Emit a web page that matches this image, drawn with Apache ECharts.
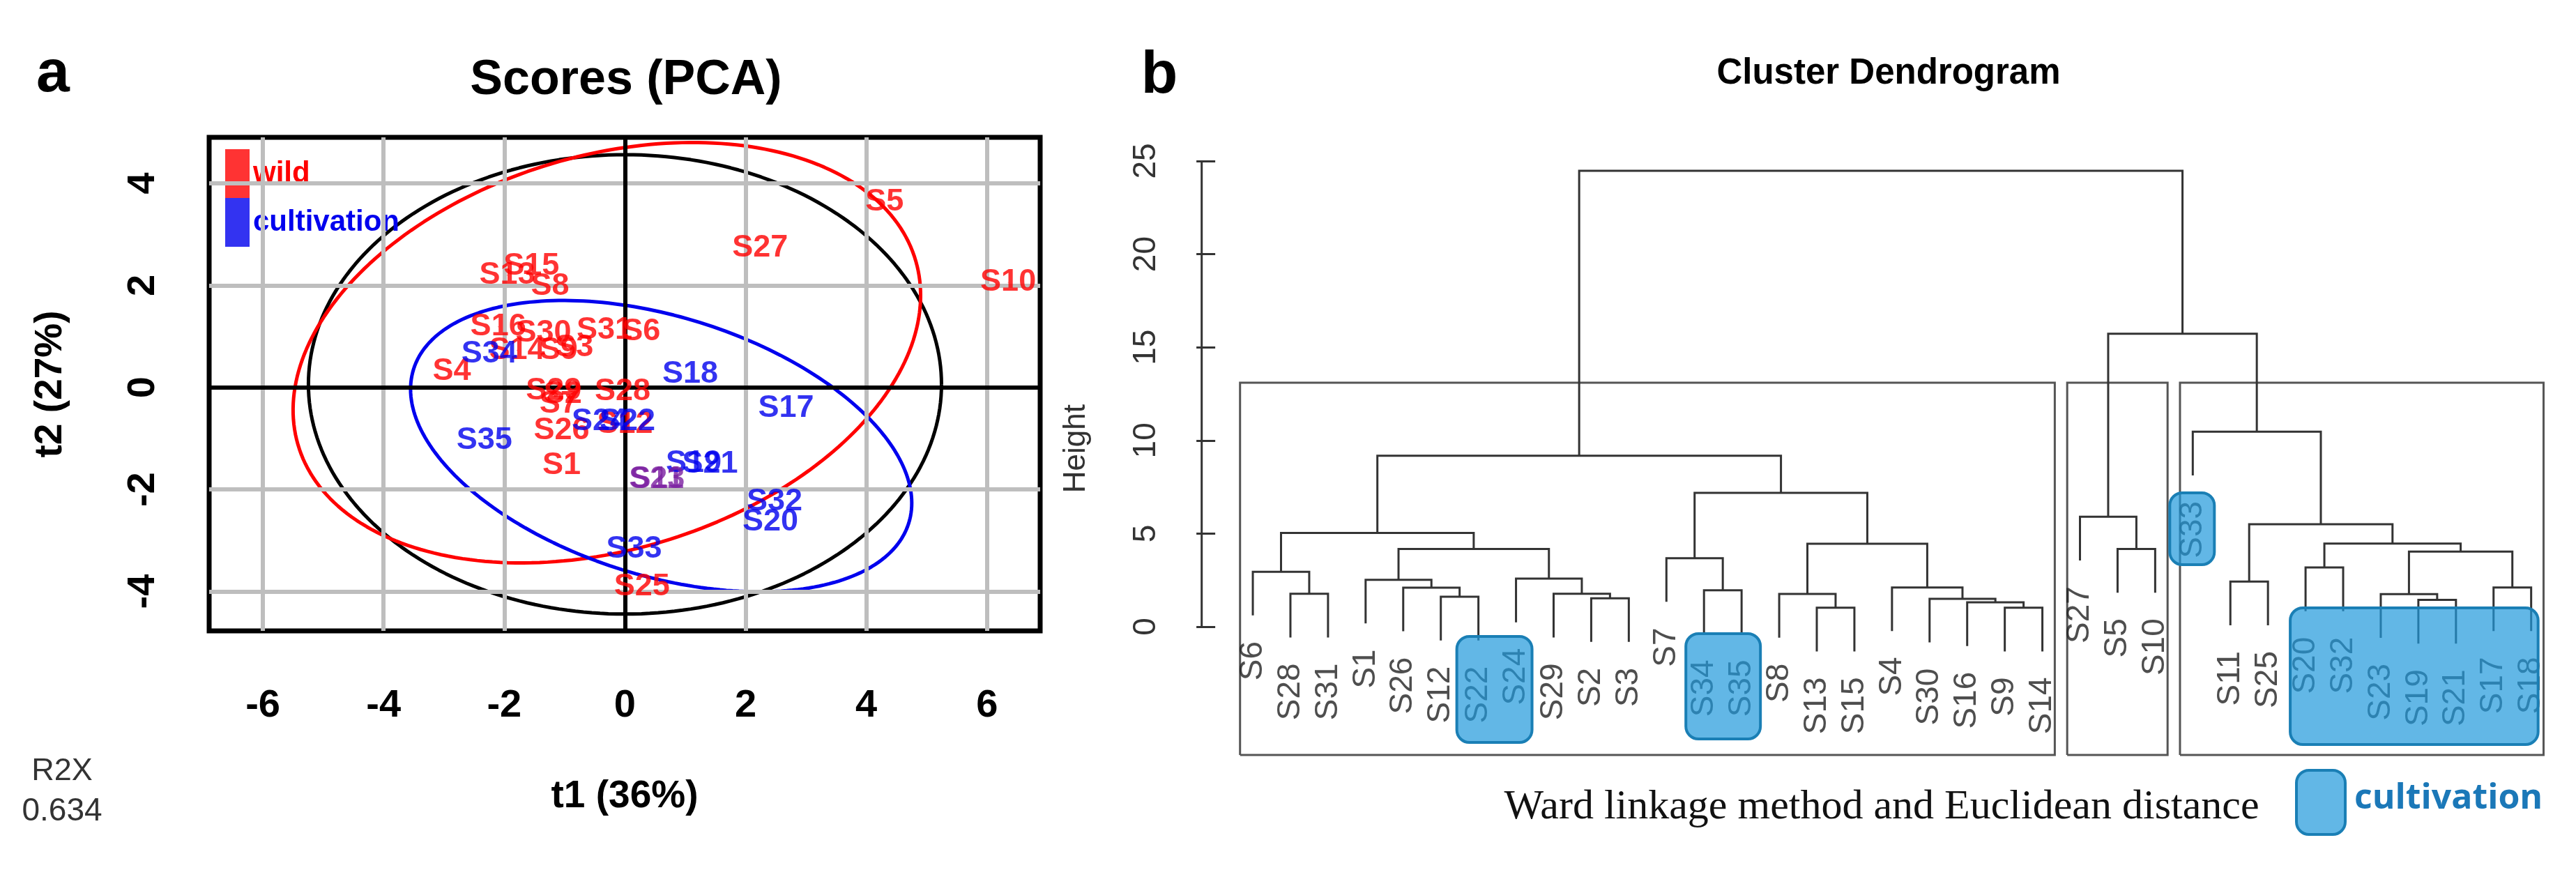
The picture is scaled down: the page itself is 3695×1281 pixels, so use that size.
<!DOCTYPE html>
<html><head><meta charset="utf-8">
<script src="https://cdn.jsdelivr.net/npm/echarts@6/dist/echarts.min.js"></script>
<style>html,body{margin:0;padding:0;background:#fff}#c{width:3695px;height:1281px}</style>
</head><body><div id="c"></div>
<script>
// ---------------- PCA scores (t1, t2) ----------------
const wildNames = ['S1','S2','S3','S4','S5','S6','S7','S8','S9','S10','S11','S12','S13','S14','S15','S16','S25','S26','S27','S28','S29','S30','S31'];
const wildT1 = [-1.05,-1.03,-0.84,-2.87,4.30,0.27,-1.10,-1.24,-1.10,6.35,0.53,0.00,-1.95,-1.79,-1.55,-2.10,0.28,-1.05,2.24,-0.04,-1.18,-1.35,-0.34];
const wildT2 = [-1.53,-0.13,0.78,0.32,3.63,1.10,-0.33,1.98,0.73,2.06,-1.80,-0.72,2.20,0.73,2.38,1.19,-3.90,-0.85,2.74,-0.08,-0.06,1.07,1.12];
const cultNames = ['S17','S18','S19','S20','S21','S22','S23','S24','S32','S33','S34','S35'];
const cultT1 = [2.67,1.08,1.14,2.41,1.41,0.04,0.53,-0.42,2.48,0.15,-2.25,-2.33];
const cultT2 = [-0.41,0.26,-1.48,-2.63,-1.50,-0.67,-1.80,-0.67,-2.24,-3.17,0.66,-1.04];
const pcaXTicks = [-6,-4,-2,0,2,4,6];
const pcaYTicks = [-4,-2,0,2,4];
// confidence ellipses: all samples, wild, cultivation
const ellipseCx = [0, -0.30, 0.60];
const ellipseCy = [0.06, 0.68, -1.15];
const ellipseA = [5.245, 5.45, 4.38];
const ellipseB = [4.50, 3.78, 2.49];
const ellipseAngle = [0, 24.6, -22.75];

// ---------------- Dendrogram (Ward) ----------------
const leafOrder = ['S6','S28','S31','S1','S26','S12','S22','S24','S29','S2','S3','S7','S34','S35','S8','S13','S15','S4','S30','S16','S9','S14','S27','S5','S10','S33','S11','S25','S20','S32','S23','S19','S21','S17','S18'];
const mergeA = ['S28','S6','S12','S26','S1','S2','S29','S24',5,2,'S34','S7','S13','S8','S9','S16','S30','S4',14,12,10,'S5','S27','S11','S20','S19','S23','S17',27,25,24,'S33',23,21];
const mergeB = ['S31',1,'S22',3,4,'S3',6,7,8,9,'S35',11,'S15',13,'S14',15,16,17,18,19,20,'S10',22,'S25','S32','S21',26,'S18',28,29,30,31,32,33];
const mergeHeight = [1.77,2.95,1.61,2.10,2.52,1.53,1.77,2.58,4.17,5.03,1.96,3.68,1.02,1.76,1.02,1.31,1.50,2.11,4.45,7.19,9.18,4.17,5.90,2.42,3.18,1.44,1.75,2.11,4.03,4.46,5.50,10.47,15.73,24.48];
const heightTicks = [0,5,10,15,20,25];
const clusterSizes = [22,3,10];
const highlightGroups = [['S22','S24'],['S34','S35'],['S33'],['S20','S32','S23','S19','S21','S17','S18']];

// ---------------- styles ----------------
const SANS = '"Liberation Sans",Arial,sans-serif';
const RED = '#ff0000', BLUE = '#0000ee';
const labelColorOverride = {S23: '#7a1fa0', S11: '#7a1fa0'};
const hlTop = [913,909,707,872], hlBottom = [1065,1060,810,1068], hlPadL = [31,26,33,22], hlPadR = [23,27,31,10];

// ---------------- build ----------------
function ellipsePts(i){
  const pts = [], th = ellipseAngle[i]*Math.PI/180;
  for (let k=0;k<=240;k++){
    const t = 2*Math.PI*k/240;
    const ex = ellipseA[i]*Math.cos(t), ey = ellipseB[i]*Math.sin(t);
    pts.push([ellipseCx[i]+ex*Math.cos(th)-ey*Math.sin(th), ellipseCy[i]+ex*Math.sin(th)+ey*Math.cos(th)]);
  }
  return pts;
}
const hang = 0.1*(Math.max(...mergeHeight)-Math.min(...mergeHeight));
const mergeX = [];
const leafEnd = {};
function nodeX(r){ return typeof r === 'string' ? leafOrder.indexOf(r)+1 : mergeX[r-1]; }
const dendroSegs = [];
for (let i=0;i<mergeHeight.length;i++){
  const H = mergeHeight[i], A = mergeA[i], B = mergeB[i];
  const xa = nodeX(A), xb = nodeX(B);
  const ya = typeof A === 'string' ? H-hang : mergeHeight[A-1];
  const yb = typeof B === 'string' ? H-hang : mergeHeight[B-1];
  if (typeof A === 'string') leafEnd[A] = H-hang;
  if (typeof B === 'string') leafEnd[B] = H-hang;
  mergeX.push((xa+xb)/2);
  dendroSegs.push({coords:[[xa,ya],[xa,H],[xb,H],[xb,yb]]});
}
const sortedH = mergeHeight.slice().sort((a,b)=>b-a);
const cutH = (sortedH[clusterSizes.length-2]+sortedH[clusterSizes.length-1])/2;
const dYMin = -6.886, dXMin = -0.36;
const rectSegs = [];
let cum = 0;
clusterSizes.forEach(s=>{
  const l = cum+0.66, r = cum+s+0.33; cum += s;
  rectSegs.push({coords:[[l,dYMin],[l,cutH],[r,cutH],[r,dYMin],[l,dYMin]]});
});

const gridLines = [];
pcaXTicks.forEach(v=>gridLines.push({xAxis:v, lineStyle:{color:'#bebebe', width:6, type:'solid'}}));
pcaYTicks.forEach(v=>gridLines.push({yAxis:v, lineStyle:{color:'#bebebe', width:6, type:'solid'}}));
gridLines.push({xAxis:0, lineStyle:{color:'#000', width:6, type:'solid'}});
gridLines.push({yAxis:0, lineStyle:{color:'#000', width:6, type:'solid'}});

const ellColors = ['#000000', RED, BLUE];
const ellSeries = ellColors.map((c,i)=>({
  type:'line', name:'ellipse'+i, xAxisIndex:0, yAxisIndex:0, data:ellipsePts(i),
  showSymbol:false, symbol:'none', silent:true, z:3,
  lineStyle:{color:c, width:5}
}));

function pointData(names, xs, ys){
  return names.map((n,i)=>{
    const d = {value:[xs[i], ys[i], n]};
    if (labelColorOverride[n]) d.label = {color: labelColorOverride[n]};
    return d;
  });
}
const pointLabel = c => ({show:true, position:'inside', formatter:p=>p.data.value[2], color:c, fontSize:45, fontWeight:'bold', fontFamily:SANS});

const chart = echarts.init(document.getElementById('c'));
const option = {
  animation:false,
  backgroundColor:'#ffffff',
  grid:[
    {left:300, top:197, width:1192, height:708, show:true, borderColor:'#000', borderWidth:7, backgroundColor:'transparent', containLabel:false, outerBoundsMode:'none'},
    {left:1723.7, top:204.3, width:1960.9, height:878.7, show:false, containLabel:false, outerBoundsMode:'none'}
  ],
  legend:{
    data:[{name:'wild', textStyle:{color:RED}},{name:'cultivation', textStyle:{color:BLUE}}],
    orient:'vertical', left:323, top:214, itemGap:0, itemWidth:35, itemHeight:70, icon:'rect', padding:0,
    selectedMode:false, textStyle:{fontSize:42, fontWeight:'bold', fontFamily:SANS}
  },
  xAxis:[
    {gridIndex:0, type:'value', min:-6.89, max:6.88,
     axisLine:{show:false}, splitLine:{show:false},
     axisTick:{show:true, customValues:pcaXTicks, length:40, lineStyle:{color:'#000', width:4}},
     axisLabel:{show:true, customValues:pcaXTicks, fontSize:56, fontWeight:'bold', fontFamily:SANS, color:'#000', margin:80},
     name:'t1 (36%)', nameLocation:'middle', nameGap:210,
     nameTextStyle:{fontSize:55, fontWeight:'bold', fontFamily:SANS, color:'#000'}},
    {gridIndex:1, type:'value', min:dXMin, max:36, show:false}
  ],
  yAxis:[
    {gridIndex:0, type:'value', min:-4.77, max:4.9,
     axisLine:{show:false}, splitLine:{show:false},
     axisTick:{show:true, customValues:pcaYTicks, length:32, lineStyle:{color:'#000', width:4}},
     axisLabel:{show:true, customValues:pcaYTicks, rotate:90, fontSize:56, fontWeight:'bold', fontFamily:SANS, color:'#000', margin:66},
     name:'t2 (27%)', nameLocation:'middle', nameGap:200, nameRotate:90,
     nameTextStyle:{fontSize:55, fontWeight:'bold', fontFamily:SANS, color:'#000'}},
    {gridIndex:1, type:'value', min:dYMin, max:26,
     axisLine:{show:false}, splitLine:{show:false},
     axisTick:{show:true, customValues:heightTicks, length:27, lineStyle:{color:'#333', width:3}},
     axisLabel:{show:true, customValues:heightTicks, rotate:90, fontSize:46, fontFamily:SANS, color:'#333', margin:56},
     name:'Height', nameLocation:'middle', nameGap:158, nameRotate:90,
     nameTextStyle:{fontSize:44, fontFamily:SANS, color:'#333'}}
  ],
  series:[
    {type:'scatter', name:'grid', xAxisIndex:0, yAxisIndex:0, data:[[0,0]], symbolSize:0, silent:true, z:1,
     markLine:{silent:true, symbol:['none','none'], label:{show:false}, emphasis:{disabled:true}, data:gridLines}},
    ...ellSeries,
    {type:'scatter', name:'wild', xAxisIndex:0, yAxisIndex:0, data:pointData(wildNames, wildT1, wildT2),
     symbolSize:1, itemStyle:{color:RED}, label:pointLabel(RED), z:5, silent:true},
    {type:'scatter', name:'cultivation', xAxisIndex:0, yAxisIndex:0, data:pointData(cultNames, cultT1, cultT2),
     symbolSize:1, itemStyle:{color:BLUE}, label:pointLabel(BLUE), z:6, silent:true},
    {type:'lines', name:'dendro', coordinateSystem:'cartesian2d', xAxisIndex:1, yAxisIndex:1, polyline:true, clip:false, silent:true,
     lineStyle:{color:'#333', width:3, opacity:1}, data:dendroSegs, z:3},
    {type:'lines', name:'clusters', coordinateSystem:'cartesian2d', xAxisIndex:1, yAxisIndex:1, polyline:true, clip:false, silent:true,
     lineStyle:{color:'#555', width:3, opacity:1}, data:rectSegs, z:2},
    {type:'lines', name:'haxis', coordinateSystem:'cartesian2d', xAxisIndex:1, yAxisIndex:1, polyline:true, clip:false, silent:true,
     lineStyle:{color:'#333', width:3, opacity:1}, data:[{coords:[[dXMin,heightTicks[0]],[dXMin,heightTicks[heightTicks.length-1]]]}], z:3},
    {type:'scatter', name:'leaves', xAxisIndex:1, yAxisIndex:1, symbolSize:0, silent:true, z:4,
     data:leafOrder.map((n,i)=>[i+1, leafEnd[n], n]),
     label:{show:true, formatter:p=>p.data[2], rotate:90, align:'right', verticalAlign:'middle', position:[0,0], offset:[-37,0],
            fontSize:46, fontFamily:SANS, color:'#222'}}
  ],
  graphic:[
    {type:'text', x:76, y:150, z:50, style:{text:'a', fontSize:86, fontWeight:'bold', fontFamily:SANS, fill:'#000', align:'center', verticalAlign:'bottom'}},
    {type:'text', x:898, y:116, z:50, style:{text:'Scores (PCA)', fontSize:70, fontWeight:'bold', fontFamily:SANS, fill:'#000', align:'center', verticalAlign:'middle'}},
    {type:'text', x:89, y:1107, z:50, style:{text:'R2X', fontSize:45, fontFamily:SANS, fill:'#333', align:'center', verticalAlign:'middle'}},
    {type:'text', x:89, y:1164, z:50, style:{text:'0.634', fontSize:46, fontFamily:SANS, fill:'#333', align:'center', verticalAlign:'middle'}},
    {type:'text', x:1663, y:152, z:50, style:{text:'b', fontSize:86, fontWeight:'bold', fontFamily:SANS, fill:'#000', align:'center', verticalAlign:'bottom'}},
    {type:'text', x:2709, y:106, z:50, style:{text:'Cluster Dendrogram', fontSize:51, fontWeight:'bold', fontFamily:SANS, fill:'#000', align:'center', verticalAlign:'middle'}},
    {type:'text', x:2699, y:1158, z:50, style:{text:'Ward linkage method and Euclidean distance', fontSize:60, fontFamily:'"Liberation Serif","Times New Roman",serif', fill:'#111', align:'center', verticalAlign:'middle'}},
    {type:'rect', z:60, shape:{x:3294, y:1105, width:70, height:92, r:18}, style:{fill:'rgba(32,152,219,0.7)', stroke:'#1a7fb5', lineWidth:4}},
    {type:'text', x:3377, y:1146, z:50, style:{text:'cultivation', fontSize:50, fontWeight:'bold', fontFamily:'"Open Sans",'+SANS, fill:'#1b78b8', align:'left', verticalAlign:'middle'}}
  ]
};
chart.setOption(option);

// highlight boxes around cultivation leaves
const hlGraphics = highlightGroups.map((g,i)=>{
  const xs = g.map(n=>chart.convertToPixel({gridIndex:1}, [leafOrder.indexOf(n)+1, 0])[0]);
  const x0 = Math.min(...xs)-hlPadL[i], x1 = Math.max(...xs)+hlPadR[i];
  return {type:'rect', z:60, shape:{x:x0, y:hlTop[i], width:x1-x0, height:hlBottom[i]-hlTop[i], r:18},
          style:{fill:'rgba(32,152,219,0.7)', stroke:'#1a7fb5', lineWidth:4}};
});
chart.setOption({graphic: option.graphic.concat(hlGraphics)});
</script></body></html>
